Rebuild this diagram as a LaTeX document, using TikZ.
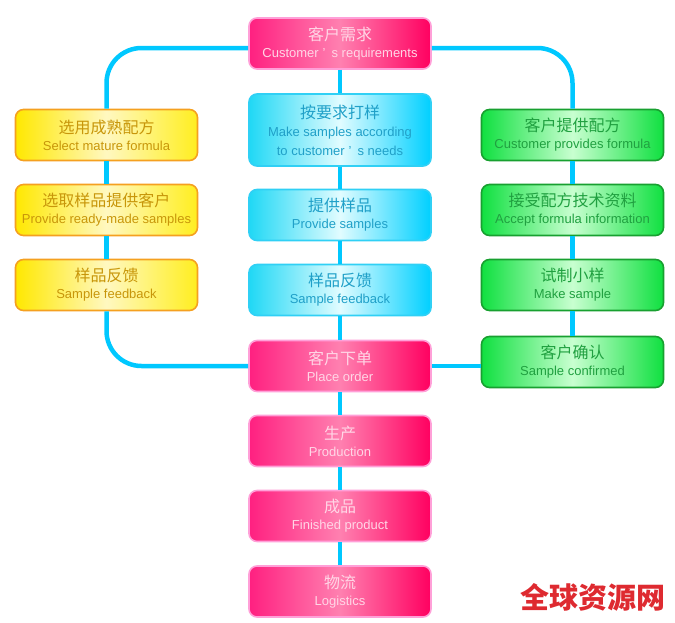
\documentclass[tikz,border=0pt]{standalone}
\usepackage{fontspec}
\setmainfont{Liberation Sans}
\newfontfamily\cjk{Noto Sans CJK SC}
\usepackage{xcolor}
\definecolor{linkblue}{HTML}{00C8FF}
\definecolor{sitered}{HTML}{DE2A30}
\tikzset{
    flowbox/.style={rounded corners=8pt, line width=1.6pt, minimum width=182pt, minimum height=51pt,
        inner sep=0pt, align=center, font=\fontsize{13}{19}\selectfont},
    pinkbox/.style={flowbox, draw={rgb,255:red,255;green,160;blue,216}, left color={rgb,255:red,255;green,32;blue,128},
        right color={rgb,255:red,255;green,0;blue,96}, middle color={rgb,255:red,255;green,128;blue,176},
        text={rgb,255:red,255;green,214;blue,230}},
    cyanbox/.style={flowbox, draw={rgb,255:red,48;green,208;blue,245}, left color={rgb,255:red,32;green,216;blue,245},
        right color={rgb,255:red,0;green,208;blue,255}, middle color={rgb,255:red,225;green,252;blue,255},
        text={rgb,255:red,32;green,160;blue,200}},
    yellowbox/.style={flowbox, draw={rgb,255:red,245;green,160;blue,32}, left color={rgb,255:red,255;green,232;blue,0},
        right color={rgb,255:red,255;green,238;blue,32}, middle color={rgb,255:red,255;green,248;blue,192},
        text={rgb,255:red,200;green,150;blue,10}},
    greenbox/.style={flowbox, draw={rgb,255:red,24;green,160;blue,48}, left color={rgb,255:red,16;green,224;blue,64},
        right color={rgb,255:red,16;green,224;blue,64}, middle color={rgb,255:red,200;green,255;blue,208},
        text={rgb,255:red,32;green,160;blue,64}},
    link/.style={linkblue, line width=4.5pt}
}
\newcommand{\zh}[1]{\raisebox{-2pt}{\cjk\fontsize{16}{20}\selectfont #1}}
\begin{document}
\begin{tikzpicture}[x=1pt, y=-1pt]
    \useasboundingbox (0,0) rectangle (675,622);

    % Middle column
    \node[pinkbox] (need) at (340,43.5) {\zh{客户需求}\\Customer\hspace{4pt}’\hspace{6pt}s requirements};
    \node[cyanbox, minimum height=72pt] (bysample) at (340,130) {\zh{按要求打样}\\[1pt]Make samples according\\to customer\hspace{4pt}’\hspace{6pt}s needs};
    \node[cyanbox] (offer) at (340,215) {\zh{提供样品}\\Provide samples};
    \node[cyanbox] (midfeedback) at (340,290) {\zh{样品反馈}\\Sample feedback};
    \node[pinkbox] (order) at (340,366) {\zh{客户下单}\\Place order};
    \node[pinkbox] (production) at (340,441) {\zh{生产}\\Production};
    \node[pinkbox] (finished) at (340,516) {\zh{成品}\\Finished product};
    \node[pinkbox] (logistics) at (340,591.5) {\zh{物流}\\Logistics};

    % Left column
    \node[yellowbox] (mature) at (106.5,135) {\zh{选用成熟配方}\\Select mature formula};
    \node[yellowbox] (readymade) at (106.5,210) {\zh{选取样品提供客户}\\Provide ready-made samples};
    \node[yellowbox] (leftfeedback) at (106.5,285) {\zh{样品反馈}\\Sample feedback};

    % Right column
    \node[greenbox] (provides) at (572.5,135) {\zh{客户提供配方}\\Customer provides formula};
    \node[greenbox] (accept) at (572.5,210) {\zh{接受配方技术资料}\\Accept formula information};
    \node[greenbox] (make) at (572.5,285) {\zh{试制小样}\\Make sample};
    \node[greenbox] (confirmed) at (572.5,362) {\zh{客户确认}\\Sample confirmed};

    % Connectors
    \foreach \a/\b in {need/bysample, bysample/offer, offer/midfeedback, midfeedback/order,
        order/production, production/finished, finished/logistics,
        mature/readymade, readymade/leftfeedback,
        provides/accept, accept/make, make/confirmed}
        \draw[link] (\a) -- (\b);
    \draw[link, rounded corners=35pt] ([yshift=-4.5pt]need.west) -| (mature.north);
    \draw[link, rounded corners=35pt] ([yshift=-4.5pt]need.east) -| (provides.north);
    \draw[link, rounded corners=35pt] (leftfeedback.south) |- (order.west);
    \draw[link] (order.east) -- (confirmed.west |- order.east);

    % Site name
    \node[text=sitered, font=\cjk\bfseries\fontsize{29}{29}\selectfont, inner sep=0pt] (sitename) at (592.5,597) {全球资源网};
\end{tikzpicture}
\end{document}
